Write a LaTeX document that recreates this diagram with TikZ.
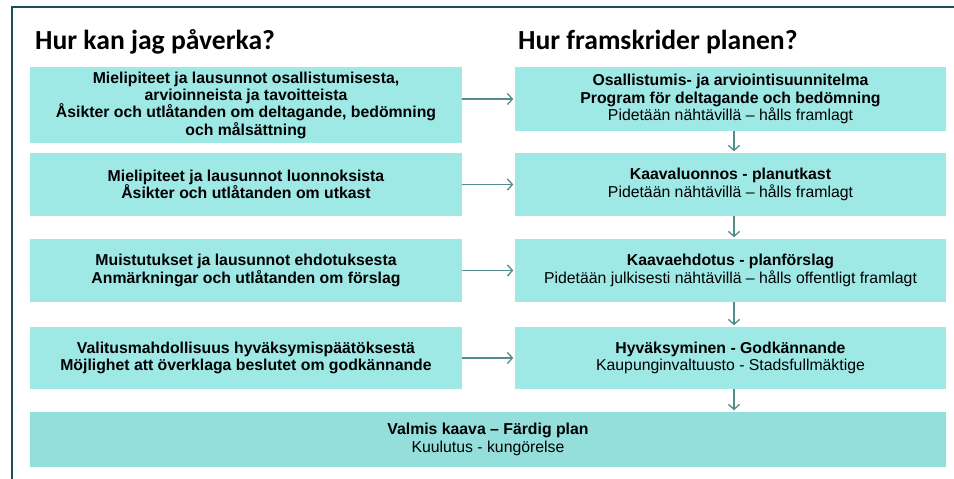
\documentclass[tikz,border=0pt]{standalone}
\usepackage{fontspec}
\setmainfont{Liberation Sans}
\newfontfamily\bodyfont{Liberation Sans}
\newfontfamily\titlefont{Carlito}
\usetikzlibrary{arrows.meta}
\definecolor{boxfill}{RGB}{158,232,230}
\definecolor{boxfilldark}{RGB}{148,222,220}
\definecolor{arrowc}{RGB}{84,140,140}
\definecolor{framec}{RGB}{28,78,86}
\begin{document}
\begin{tikzpicture}[x=1pt,y=-1pt,
  box/.style={fill=boxfill, draw=none, inner sep=0pt, align=center, font=\bodyfont\fontsize{15.8}{17.3}\selectfont},
  heading/.style={anchor=west, inner sep=0pt, font=\titlefont\bfseries\fontsize{27.6}{30}\selectfont},
  conn/.style={draw=arrowc, line width=1.3pt, shorten >=1.5pt, -{Straight Barb[length=5pt,width=11pt]}}]
\useasboundingbox (0,0) rectangle (954,479);
\fill[white] (0,0) rectangle (954,479);
\draw[framec, line width=2.5pt] (12,480) -- (12,7) -- (955,7);

\node[heading] (h1) at (35,42) {Hur kan jag påverka?};
\node[heading] (h2) at (518,42) {Hur framskrider planen?};

\node[box, minimum width=432pt, minimum height=76pt] (L1) at (246,105)
  {\bfseries Mielipiteet ja lausunnot osallistumisesta,\\\bfseries arvioinneista ja tavoitteista\\\bfseries Åsikter och utlåtanden om deltagande, bedömning\\\bfseries och målsättning};
\node[box, minimum width=432pt, minimum height=63pt] (L2) at (246,184.5)
  {\bfseries Mielipiteet ja lausunnot luonnoksista\\\bfseries Åsikter och utlåtanden om utkast};
\node[box, minimum width=432pt, minimum height=63pt] (L3) at (246,270.5)
  {\bfseries Muistutukset ja lausunnot ehdotuksesta\\\bfseries Anmärkningar och utlåtanden om förslag};
\node[box, minimum width=432pt, minimum height=62pt] (L4) at (246,358)
  {\bfseries Valitusmahdollisuus hyväksymispäätöksestä\\\bfseries Möjlighet att överklaga beslutet om godkännande};

\node[box, minimum width=431pt, minimum height=64pt] (R1) at (730.5,99)
  {\bfseries Osallistumis- ja arviointisuunnitelma\\\bfseries Program för deltagande och bedömning\\Pidetään nähtävillä – hålls framlagt};
\node[box, minimum width=431pt, minimum height=63pt] (R2) at (730.5,184.5)
  {\bfseries Kaavaluonnos - planutkast\\Pidetään nähtävillä – hålls framlagt};
\node[box, minimum width=431pt, minimum height=63pt] (R3) at (730.5,270.5)
  {\bfseries Kaavaehdotus - planförslag\\Pidetään julkisesti nähtävillä – hålls offentligt framlagt};
\node[box, minimum width=431pt, minimum height=62pt] (R4) at (730.5,358)
  {\bfseries Hyväksyminen - Godkännande\\Kaupunginvaltuusto - Stadsfullmäktige};

\node[box, fill=boxfilldark, minimum width=916pt, minimum height=55pt] (B) at (488,439.5)
  {\bfseries Valmis kaava – Färdig plan\\Kuulutus - kungörelse};

\foreach \a/\b in {L1/R1,L2/R2,L3/R3,L4/R4}
  \draw[conn] (\a.east |- \b.west) -- (\b.west);
\foreach \a/\b in {R1/R2,R2/R3,R3/R4}
  \draw[conn] ([xshift=3.5pt]\a.south) -- ([xshift=3.5pt]\b.north);
\draw[conn] ([xshift=3.5pt]R4.south) -- ([xshift=3.5pt]R4.south |- B.north);
\end{tikzpicture}
\end{document}
